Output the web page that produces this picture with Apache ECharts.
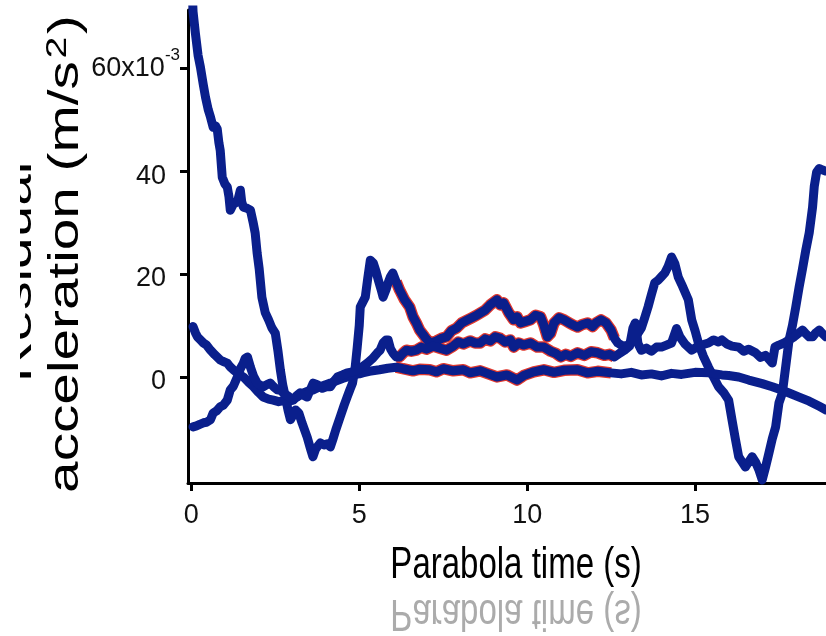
<!DOCTYPE html>
<html>
<head>
<meta charset="utf-8">
<script src="https://cdn.jsdelivr.net/npm/echarts@6/dist/echarts.min.js"></script>
<style>html,body{margin:0;padding:0;background:#fff}#c{width:826px;height:636px}</style>
</head>
<body>
<div id="c"></div>
<script>
// ---- data (time in s, residual acceleration in 1e-3 m/s^2) ----
const xTicks = [0, 5, 10, 15];
const yTicks = [0, 20, 40, 60];
const haloRange = [6.05, 12.65];

const curveA = [[0.02,76],[0.05,71],[0.12,66.8],[0.2,62.5],[0.27,60.2],[0.35,57],[0.42,54.4],[0.5,52],[0.57,50.5],[0.65,48.5],[0.72,48.8],[0.77,48.2],[0.82,45.5],[0.86,44],[0.92,38.8],[1.0,37.5],[1.07,36.9],[1.12,35],[1.16,32.4],[1.25,33.6],[1.31,33.8],[1.38,34.2],[1.46,36.3],[1.5,34],[1.55,33],[1.65,32.8],[1.76,32.4],[1.84,30],[1.9,28],[1.96,24],[2.02,21],[2.1,15.5],[2.2,12.5],[2.3,11.1],[2.4,9.5],[2.5,8.5],[2.58,5],[2.65,1.4],[2.72,-1.5],[2.8,-3.9],[2.88,-6.5],[2.95,-8.3],[3.02,-7.5],[3.1,-6.4],[3.2,-7],[3.3,-9],[3.45,-11.7],[3.55,-14],[3.62,-15.5],[3.7,-14],[3.84,-12.8],[3.95,-13.2],[4.05,-13],[4.14,-13.6],[4.22,-12],[4.3,-10.3],[4.43,-7.8],[4.55,-5.5],[4.64,-3.9],[4.72,-2.5],[4.8,-1.2],[4.88,2],[4.94,5.8],[5.0,10],[5.03,13.6],[5.1,14.5],[5.18,15.5],[5.25,19],[5.33,22.7],[5.42,22.1],[5.5,20.5],[5.57,18.8],[5.65,17],[5.71,15.5],[5.8,17],[5.86,18.3],[5.93,19.5],[6.0,20.2],[6.1,18.5],[6.2,16.9],[6.35,15],[6.5,13.6],[6.6,11.7],[6.7,10.5],[6.8,9.1],[6.95,7.8],[7.1,6.6],[7.3,7],[7.45,7.5],[7.6,7.8],[7.75,9],[7.9,9.5],[8.05,10.5],[8.2,11],[8.35,11.5],[8.5,12],[8.6,12.4],[8.75,13],[8.9,14],[9.0,14.5],[9.1,15],[9.2,14],[9.3,14.4],[9.45,12.5],[9.6,11.1],[9.7,11.7],[9.8,10.5],[9.95,10.8],[10.1,11.1],[10.25,12],[10.4,11.7],[10.5,10],[10.6,7.8],[10.7,8.5],[10.8,10.5],[10.95,11.5],[11.1,11.1],[11.25,10.5],[11.4,10],[11.5,9.7],[11.65,10.2],[11.8,10.5],[11.95,9.8],[12.05,10.5],[12.2,11.1],[12.35,10.5],[12.5,9.1],[12.6,7.5],[12.7,6.6],[12.85,6],[13.0,6.2],[13.15,7],[13.3,8.5],[13.4,9.5],[13.5,11.5],[13.6,13.6],[13.7,16],[13.8,18.3],[13.9,18.8],[14.0,19.5],[14.1,20.2],[14.2,21.5],[14.3,23.3],[14.4,22],[14.5,19.4],[14.6,18],[14.7,16.5],[14.8,15],[14.9,11.1],[15.0,9],[15.1,6.6],[15.25,4],[15.4,1.9],[15.55,0],[15.7,-1.9],[15.85,-3],[16.0,-4.5],[16.1,-8.3],[16.2,-12],[16.3,-15.5],[16.4,-16.5],[16.5,-17.5],[16.6,-16.5],[16.7,-15.5],[16.8,-16.5],[16.9,-18],[17.0,-20],[17.1,-17.5],[17.2,-14.8],[17.3,-12],[17.4,-9.7],[17.5,-5],[17.6,-3.1],[17.7,2],[17.8,7.2],[17.9,10],[18.0,13.6],[18.1,17.5],[18.2,21],[18.3,24.7],[18.4,28],[18.5,33],[18.55,37],[18.62,39.8],[18.7,40.5],[18.8,40.2],[18.9,40]];

const curveB = [[0.05,9.8],[0.12,8.6],[0.18,7.8],[0.27,7.2],[0.36,6.6],[0.45,6.2],[0.57,5.2],[0.7,4.3],[0.86,3.3],[0.95,3.0],[1.07,2.7],[1.15,2],[1.25,1.4],[1.4,0.6],[1.55,0],[1.7,-1],[1.85,-1.9],[2.0,-3],[2.14,-3.9],[2.3,-4.3],[2.44,-4.5],[2.6,-4.8],[2.75,-4.6],[2.86,-5],[3.0,-4.4],[3.15,-3.9],[3.3,-3.2],[3.45,-2.8],[3.63,-2.5],[3.8,-2],[4.0,-1.5],[4.14,-1.2],[4.3,-0.8],[4.5,-0.3],[4.64,0],[4.8,0.4],[5.0,0.6],[5.1,0.8],[5.3,1.1],[5.6,1.4],[5.85,1.7],[6.1,1.9],[6.3,1.6],[6.6,1.2],[6.8,1.5],[7.1,1.4],[7.3,1.0],[7.5,1.6],[7.8,1.2],[8.1,1.4],[8.3,0.8],[8.6,1.2],[8.85,0.6],[9.1,0],[9.4,0.4],[9.7,-0.6],[9.9,0.3],[10.2,1.0],[10.5,1.4],[10.8,0.9],[11.1,1.3],[11.5,1.4],[11.8,0.8],[12.1,1.1],[12.5,0.8],[12.8,0.6],[13.1,0.9],[13.4,0.4],[13.7,0.6],[14.0,0.2],[14.3,0.7],[14.6,0.5],[15.0,0.9],[15.4,0.8],[15.8,0.4],[16.0,0.3],[16.3,0],[16.6,-0.6],[17.0,-1.3],[17.3,-1.9],[17.6,-2.6],[17.8,-3.1],[18.1,-3.9],[18.4,-4.7],[18.7,-5.7],[18.9,-6.4]];

const curveC = [[0.05,-9.7],[0.15,-9.5],[0.25,-9.2],[0.36,-8.9],[0.45,-8.8],[0.57,-8.3],[0.65,-7],[0.75,-6.6],[0.86,-5.8],[0.95,-5.5],[1.07,-4.5],[1.16,-2.5],[1.25,-1.8],[1.37,0],[1.46,1.6],[1.55,2.7],[1.6,3.6],[1.67,3.9],[1.72,2.8],[1.76,1.9],[1.85,0.2],[1.96,-1.2],[2.05,-1.6],[2.14,-1.9],[2.25,-1.5],[2.35,-1.2],[2.45,-1.9],[2.56,-2.5],[2.65,-2.6],[2.74,-3.1],[2.9,-3.8],[3.04,-4.5],[3.14,-3.6],[3.24,-3.1],[3.35,-3.6],[3.45,-3.9],[3.55,-2.4],[3.63,-1.2],[3.75,-1.5],[3.9,-2.2],[4.02,-1.9],[4.14,-1.9],[4.25,-0.8],[4.35,0],[4.5,0.4],[4.64,0.8],[4.8,1.0],[4.94,1.4],[5.1,2.0],[5.24,2.7],[5.4,3.6],[5.54,4.7],[5.62,5.2],[5.71,6.6],[5.8,7.2],[5.86,7.2],[5.93,5.5],[6.0,4.7],[6.1,3.9],[6.2,3.9],[6.3,4.6],[6.4,5.2],[6.55,5.0],[6.7,5.2],[6.85,5.8],[7.0,5.4],[7.2,6.0],[7.4,5.6],[7.6,5.2],[7.8,6.0],[7.95,6.8],[8.1,6.4],[8.3,7.0],[8.45,6.6],[8.6,6.6],[8.75,7.4],[8.9,7.0],[9.05,7.8],[9.2,7.5],[9.35,6.8],[9.5,7.2],[9.6,5.8],[9.75,6.6],[9.9,6.2],[10.1,6.6],[10.3,5.8],[10.5,5.8],[10.7,5.0],[10.85,4.6],[11.0,3.9],[11.15,4.4],[11.3,4.0],[11.5,4.7],[11.7,4.2],[11.9,4.9],[12.1,4.7],[12.3,4.2],[12.45,4.4],[12.6,3.9],[12.75,4.6],[12.9,5.2],[13.05,6.0],[13.15,9.5],[13.22,10.5],[13.3,6.5],[13.4,5.2],[13.55,5.6],[13.7,5.0],[13.85,5.8],[14.0,5.8],[14.15,6.2],[14.3,6.6],[14.45,9.4],[14.55,7.8],[14.7,6.4],[14.9,5.2],[15.05,5.8],[15.2,6.2],[15.4,6.6],[15.55,7.2],[15.7,6.8],[15.8,7.2],[15.95,6.4],[16.1,6.0],[16.3,5.8],[16.45,5.0],[16.6,5.4],[16.8,4.7],[16.95,3.8],[17.1,4.2],[17.3,2.7],[17.38,5.8],[17.5,6.2],[17.65,6.6],[17.8,7.2],[17.95,7.8],[18.1,8.6],[18.2,9.1],[18.3,8.4],[18.4,7.8],[18.5,7.8],[18.6,8.6],[18.7,9.1],[18.8,8.4],[18.9,7.8]];

const xTitle = 'Parabola time (s)';
const yTitle1 = 'Residual';
const yTitle2 = 'acceleration (m/s';

// ---- chart ----
const NAVY = '#0a1f8c';
const HALO = '#e0382e';
const tickFont = '"Liberation Sans", Arial, sans-serif';
const titleFont = '"Liberation Sans", Arial, sans-serif';

function halo(arr) { return arr.filter(p => p[0] >= haloRange[0] && p[0] <= haloRange[1]); }

const curves = [curveA, curveB, curveC];
const series = [];
curves.forEach((c, i) => series.push({
  type: 'line', name: 'halo' + i, data: halo(c), showSymbol: false, z: 1,
  lineStyle: { color: HALO, width: 11.5, cap: 'butt', join: 'round' }, silent: true
}));
curves.forEach((c, i) => series.push({
  type: 'line', name: 'curve' + i, data: c, showSymbol: false, z: 3,
  lineStyle: { color: NAVY, width: 9, cap: 'round', join: 'round' }, silent: true
}));

const chart = echarts.init(document.getElementById('c'), null, { renderer: 'canvas' });
chart.setOption({
  animation: false,
  backgroundColor: '#fff',
  grid: { left: 188, right: 0, top: 10, bottom: 153, containLabel: false, outerBoundsMode: 'none' },
  xAxis: {
    type: 'value', min: -0.1, max: 18.9,
    splitLine: { show: false },
    axisLine: { show: true, onZero: false, lineStyle: { color: '#000', width: 3 } },
    axisTick: { show: true, customValues: xTicks, length: 8, lineStyle: { color: '#000', width: 3 } },
    axisLabel: { customValues: xTicks, margin: 19, color: '#111', fontSize: 27, fontFamily: tickFont }
  },
  yAxis: {
    type: 'value', min: -20.6, max: 71.3,
    splitLine: { show: false },
    axisLine: { show: true, onZero: false, lineStyle: { color: '#000', width: 3 } },
    axisTick: { show: true, customValues: yTicks, length: 8, lineStyle: { color: '#000', width: 3 } },
    axisLabel: {
      customValues: yTicks, margin: 8, color: '#111',
      formatter: v => v === 60 ? '{n|60x10}{s|-3}' : '{m|' + v + '}{sp|}',
      rich: {
        n: { fontSize: 27, fontFamily: tickFont, color: '#111' },
        m: { fontSize: 27, fontFamily: tickFont, color: '#111', padding: [10, 0, 0, 0] },
        s: { fontSize: 17, fontFamily: tickFont, color: '#111', verticalAlign: 'top', padding: [0, 0, 26, 0] },
        sp: { width: 14 }
      }
    }
  },
  graphic: [
    { type: 'text', x: 66, y: 254, rotation: Math.PI / 2, scaleX: 1.35, z: 10,
      style: { text: '{a|' + yTitle2 + '}{s|2}{a|)}', align: 'center', verticalAlign: 'middle',
        rich: { a: { fontSize: 42, fontFamily: titleFont, fill: '#000' },
                s: { fontSize: 29, fontFamily: titleFont, fill: '#000', verticalAlign: 'top', padding: [0, 2, 16, 2] } } } },
    { type: 'text', x: 19, y: 272, rotation: Math.PI / 2, scaleX: 1.35, z: 10,
      style: { text: yTitle1, align: 'center', verticalAlign: 'middle', fontSize: 42, fontFamily: titleFont, fill: '#000' } },
    { type: 'rect', shape: { x: 0, y: 0, width: 20, height: 636 }, style: { fill: '#fff' }, z: 11, silent: true },
    { type: 'text', x: 516, y: 566, scaleY: 1.35, z: 10,
      style: { text: xTitle, align: 'center', verticalAlign: 'middle', fontSize: 33, fontFamily: titleFont, fill: '#000' } },
    { type: 'text', x: 516, y: 612, scaleY: -1.35, z: 9,
      style: { text: xTitle, align: 'center', verticalAlign: 'middle', fontSize: 33, fontFamily: titleFont, fill: '#ababab' } },
    { type: 'rect', shape: { x: 380, y: 588, width: 280, height: 2 }, style: { fill: '#fff' }, z: 12, silent: true }
  ],
  series: series
});
</script>
</body>
</html>
